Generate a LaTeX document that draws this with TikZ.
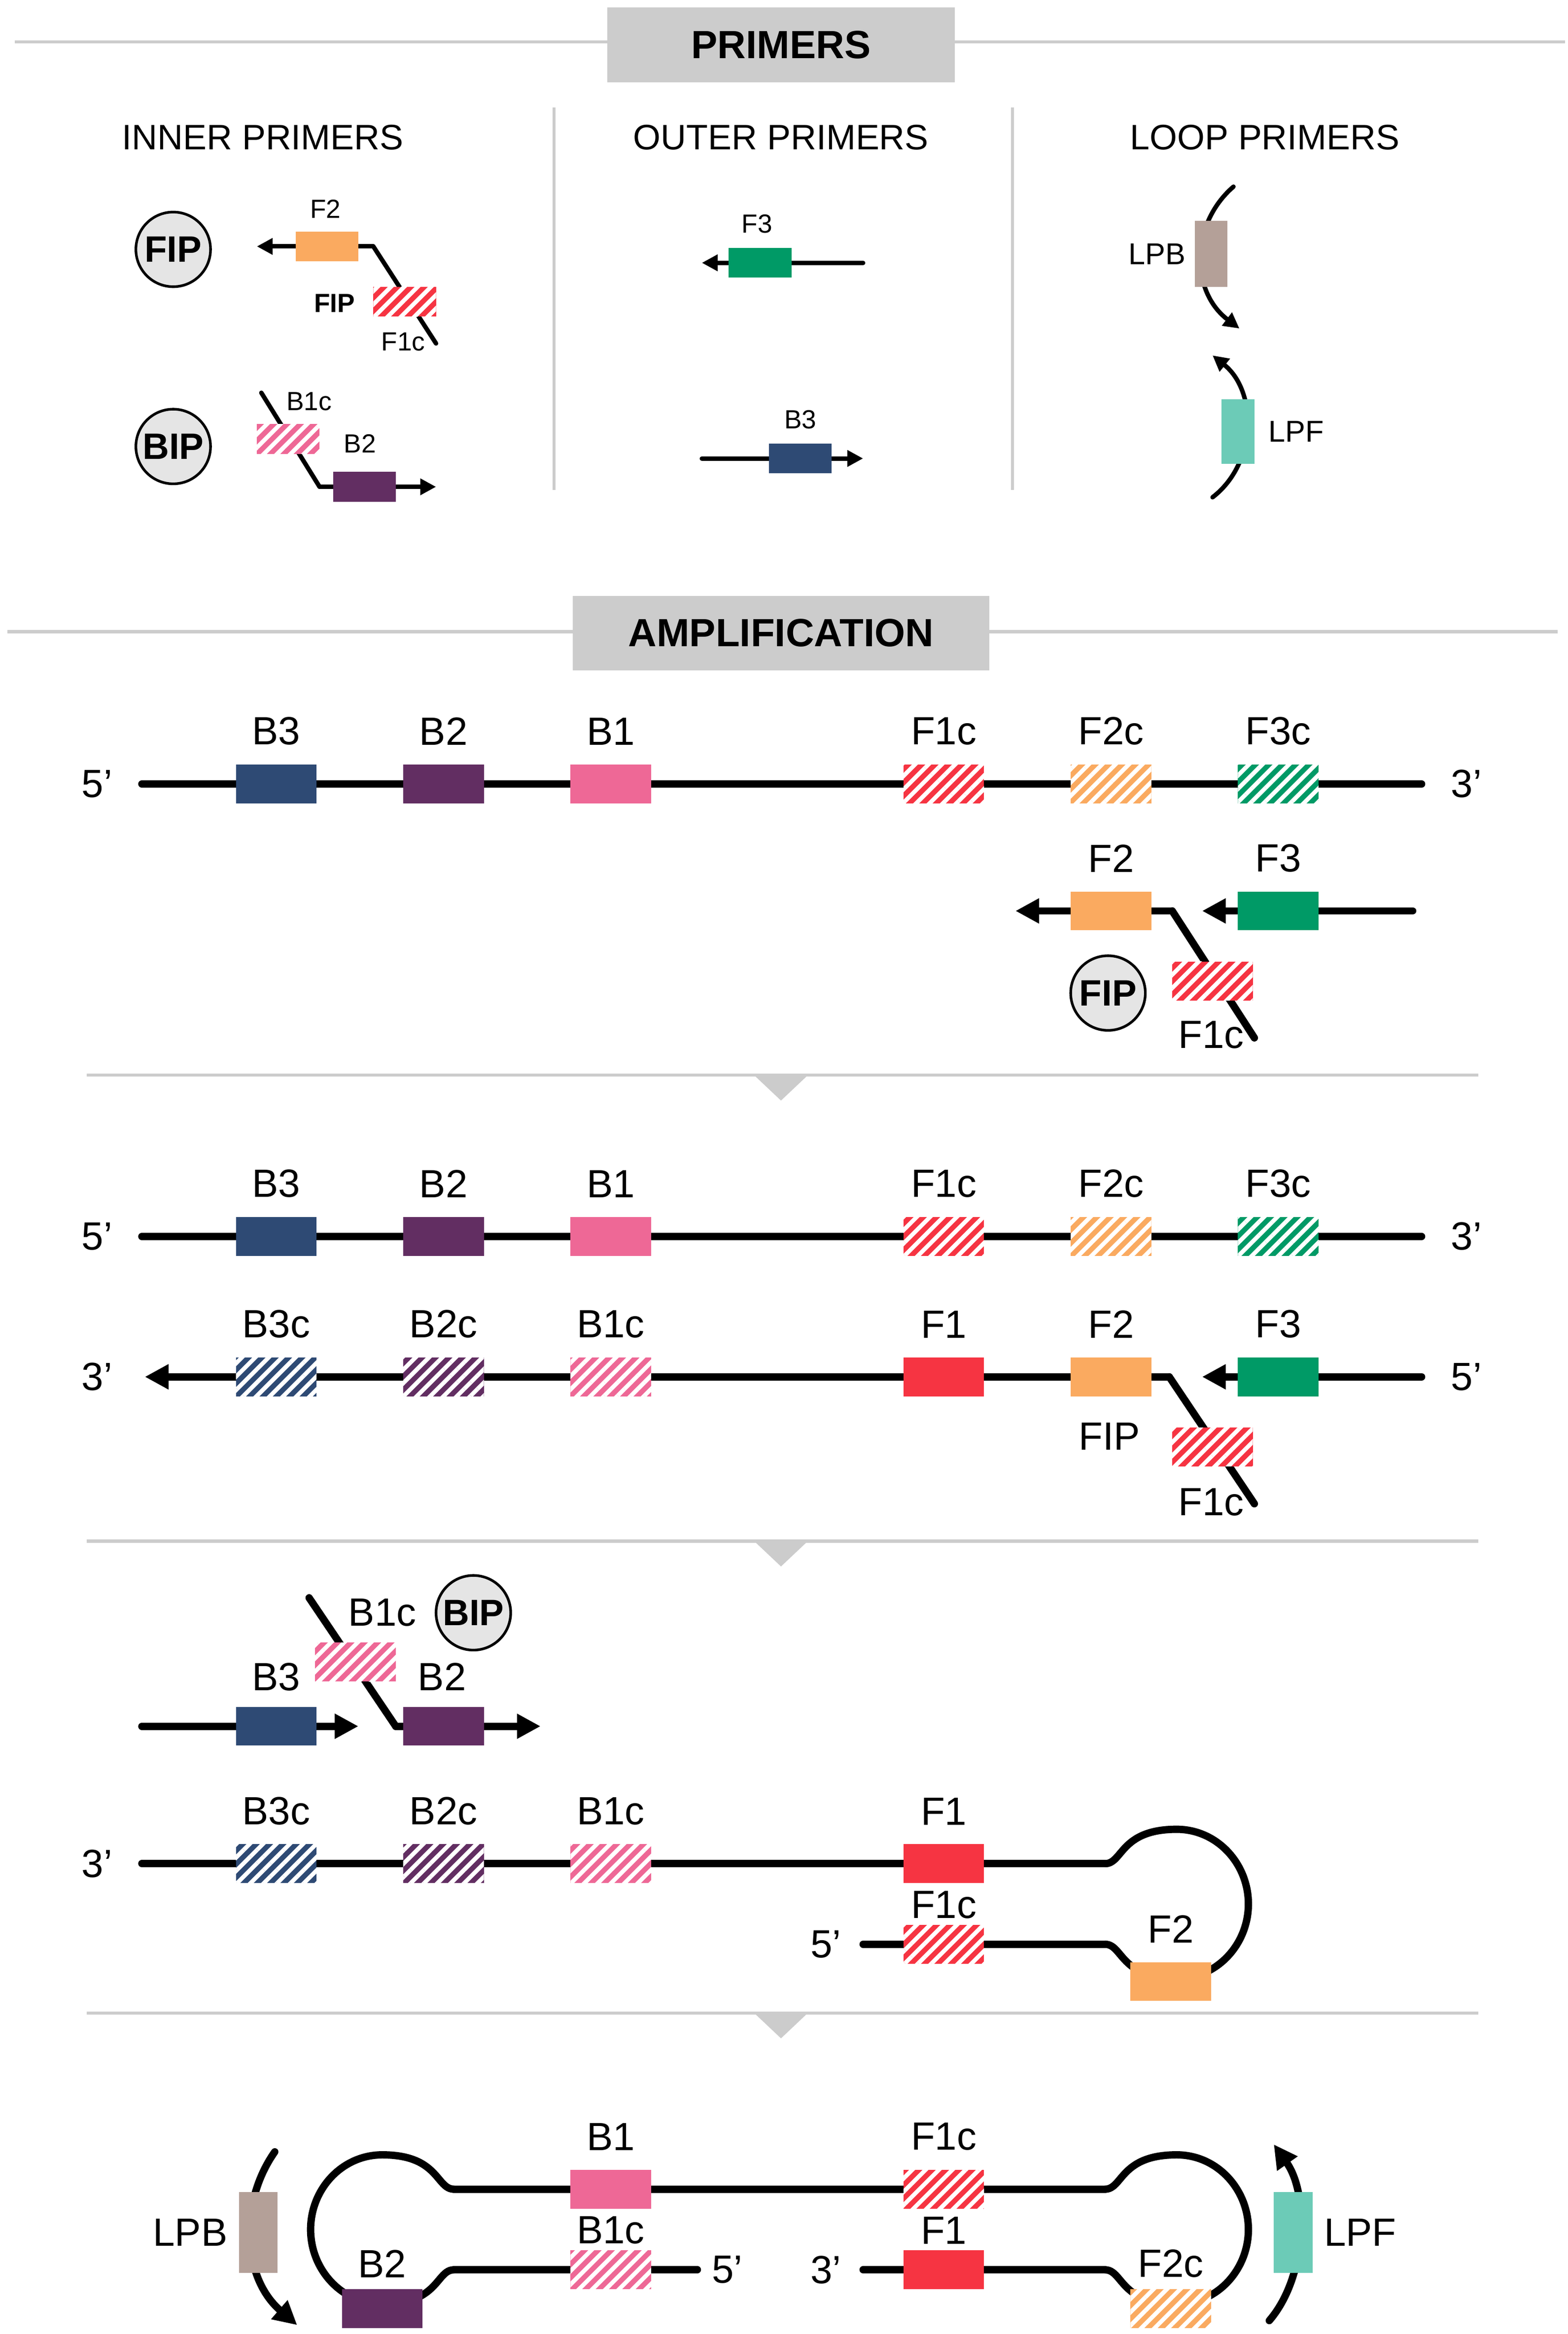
\documentclass[tikz,border=0pt]{standalone}
\usepackage{fontspec}
\setmainfont{Liberation Sans}
\usetikzlibrary{arrows.meta,patterns.meta,positioning}
\definecolor{cBthree}{RGB}{46,74,116}
\definecolor{cBtwo}{RGB}{98,46,98}
\definecolor{cBone}{RGB}{238,104,150}
\definecolor{cFone}{RGB}{246,52,66}
\definecolor{cFtwo}{RGB}{250,170,96}
\definecolor{cFthree}{RGB}{0,154,102}
\definecolor{cLPB}{RGB}{180,160,152}
\definecolor{cLPF}{RGB}{108,203,183}
\definecolor{hdgray}{RGB}{204,204,204}
\begin{document}
\begin{tikzpicture}[x=0.02cm, y=-0.02cm,
    strand/.style={line width=2.8pt, line cap=round},
    thin strand/.style={line width=1.7pt, line cap=round},
    tip/.style={-{Triangle[length=9pt,width=9pt]}},
    small tip/.style={-{Triangle[length=6pt,width=6pt]}},
    blk/.style={inner sep=0pt, minimum width=1.08cm, minimum height=0.52cm},
    sblk/.style={inner sep=0pt, minimum width=0.84cm, minimum height=0.4cm},
    vblk/.style={inner sep=0pt, minimum width=0.52cm, minimum height=1.08cm},
    hatch/.style={fill=#1, postaction={pattern color=white, pattern={Lines[angle=45,distance=3.6pt,line width=1.6pt]}}},
    lbl/.style={font=\fontsize{15}{17}\selectfont, inner sep=1pt},
    slbl/.style={font=\fontsize{10}{12}\selectfont, inner sep=1pt},
    ttl/.style={font=\fontsize{13.5}{16}\selectfont},
    hdr/.style={fill=hdgray, minimum width=4.66cm, minimum height=1cm, font=\fontsize{15}{18}\selectfont\bfseries},
    prim/.style={circle, draw, line width=1pt, fill=black!10, minimum size=1cm, inner sep=0pt, font=\fontsize{14}{16}\selectfont\bfseries},
    sep/.style={draw=hdgray, line width=1.2pt}
]
\useasboundingbox (0,0) rectangle (1050,1563);

% ---- PRIMERS header
\draw[sep] (10,28) -- (1048,28);
\node[hdr] (hprim) at (523,30) {PRIMERS};
\draw[sep] (371,72) -- (371,328);
\draw[sep] (678,72) -- (678,328);
\node[ttl] (tinner) at (176,92) {INNER PRIMERS};
\node[ttl] (touter) at (523,92) {OUTER PRIMERS};
\node[ttl] (tloop) at (847,92) {LOOP PRIMERS};

% inner primers
\node[prim] (fip) at (116,167) {FIP};
\coordinate (fipa) at (172,165);
\coordinate (fipk) at (250,165);
\coordinate (fipe) at (292,230);
\draw[thin strand, small tip] (fipk) -- (fipa);
\draw[thin strand] (fipk) -- (fipe);
\node[sblk, fill=cFtwo] (pf2) at (219,165) {};
\node[sblk, hatch=cFone] (pf1c) at (271,202) {};
\node[slbl] at (218,140) {F2};
\node[slbl, font=\fontsize{10}{12}\selectfont\bfseries] at (224,203) {FIP};
\node[slbl] at (270,229) {F1c};

\node[prim] (bip) at (116,299) {BIP};
\coordinate (bips) at (175,263);
\coordinate (bipk) at (214,326);
\coordinate (bipa) at (292,326);
\draw[thin strand] (bips) -- (bipk);
\draw[thin strand, small tip] (bipk) -- (bipa);
\node[sblk, hatch=cBone] (pb1c) at (193,294) {};
\node[sblk, fill=cBtwo] (pb2) at (244,326) {};
\node[slbl] at (207,269) {B1c};
\node[slbl] at (241,297) {B2};

% outer primers
\coordinate (of3s) at (578,176);
\coordinate (of3a) at (470,176);
\draw[thin strand, small tip] (of3s) -- (of3a);
\node[sblk, fill=cFthree] (pf3) at (509,176) {};
\node[slbl] at (507,150) {F3};
\coordinate (ob3s) at (470,307);
\coordinate (ob3a) at (578,307);
\draw[thin strand, small tip] (ob3s) -- (ob3a);
\node[sblk, fill=cBthree] (pb3) at (536,307) {};
\node[slbl] at (536,281) {B3};

% loop primers
\coordinate (lpbs) at (826,125);
\coordinate (lpba) at (830,220);
\draw[thin strand, small tip] (lpbs) .. controls (797,150) and (797,195) .. (lpba);
\node[inner sep=0pt, minimum width=0.44cm, minimum height=0.88cm, fill=cLPB] (plpb) at (811,170) {};
\node[slbl, font=\fontsize{11.5}{13}\selectfont, left=2pt of plpb] {LPB};
\coordinate (lpfs) at (812,333);
\coordinate (lpfa) at (812,238);
\draw[thin strand, small tip] (lpfs) .. controls (842,310) and (842,262) .. (lpfa);
\node[inner sep=0pt, minimum width=0.44cm, minimum height=0.86cm, fill=cLPF] (plpf) at (829,289) {};
\node[slbl, font=\fontsize{11.5}{13}\selectfont, right=4pt of plpf] {LPF};

% ---- AMPLIFICATION header
\draw[sep] (5,423) -- (1043,423);
\node[hdr, minimum width=5.58cm] (hamp) at (523,424) {AMPLIFICATION};

% step 1
\coordinate (s1l) at (95,525);
\coordinate (s1r) at (952,525);
\draw[strand] (s1l) -- (s1r);
\node[lbl] at (65,525) {5'};
\node[lbl] at (982,525) {3'};
\foreach \x/\c/\t/\h in {185/cBthree/B3/0,297/cBtwo/B2/0,409/cBone/B1/0,632/cFone/F1c/1,744/cFtwo/F2c/1,856/cFthree/F3c/1}{
  \ifnum\h=1 \node[blk, hatch=\c] (a\t) at (\x,525) {}; \else \node[blk, fill=\c] (a\t) at (\x,525) {}; \fi
  \node[lbl, above=6pt of a\t] {\t};
}
\coordinate (f3s) at (946,610);
\coordinate (f3a) at (805,610);
\draw[strand, tip] (f3s) -- (f3a);
\coordinate (f2k) at (785,610);
\coordinate (f2a) at (680,610);
\coordinate (f2e) at (840,695);
\draw[strand, tip] (f2k) -- (f2a);
\draw[strand] (f2k) -- (f2e);
\node[blk, fill=cFthree] (af3) at (856,610) {};
\node[blk, fill=cFtwo] (af2) at (744,610) {};
\node[blk, hatch=cFone] (af1c) at (812,657) {};
\node[lbl, above=6pt of af3] {F3};
\node[lbl, above=6pt of af2] {F2};
\node[lbl] at (811,693) {F1c};
\node[prim, fill=black!10] (fipa2) at (742,665) {FIP};

\draw[sep] (58,720) -- (990,720);
\fill[hdgray] (505,720) -- (541,720) -- (523,737) -- cycle;

% step 2
\coordinate (s2l) at (95,828);
\coordinate (s2r) at (952,828);
\draw[strand] (s2l) -- (s2r);
\node[lbl] at (65,828) {5'};
\node[lbl] at (982,828) {3'};
\foreach \x/\c/\t/\h in {185/cBthree/B3/0,297/cBtwo/B2/0,409/cBone/B1/0,632/cFone/F1c/1,744/cFtwo/F2c/1,856/cFthree/F3c/1}{
  \ifnum\h=1 \node[blk, hatch=\c] (b\t) at (\x,828) {}; \else \node[blk, fill=\c] (b\t) at (\x,828) {}; \fi
  \node[lbl, above=6pt of b\t] {\t};
}
\coordinate (s2k) at (783,922);
\coordinate (s2a) at (97,922);
\coordinate (s2e) at (840,1007);
\coordinate (s2f) at (952,922);
\coordinate (s2fa) at (805,922);
\draw[strand, tip] (s2k) -- (s2a);
\draw[strand] (s2k) -- (s2e);
\draw[strand, tip] (s2f) -- (s2fa);
\node[lbl] at (65,922) {3'};
\node[lbl] at (982,922) {5'};
\foreach \x/\c/\t/\h in {185/cBthree/B3c/1,297/cBtwo/B2c/1,409/cBone/B1c/1,632/cFone/F1/0,744/cFtwo/F2/0,856/cFthree/F3/0}{
  \ifnum\h=1 \node[blk, hatch=\c] (c\t) at (\x,922) {}; \else \node[blk, fill=\c] (c\t) at (\x,922) {}; \fi
  \node[lbl, above=6pt of c\t] {\t};
}
\node[blk, hatch=cFone] (cf1c) at (812,969) {};
\node[lbl] at (743,962) {FIP};
\node[lbl] at (811,1006) {F1c};

\draw[sep] (58,1032) -- (990,1032);
\fill[hdgray] (505,1032) -- (541,1032) -- (523,1049) -- cycle;

% step 3
\coordinate (b3s) at (95,1156);
\coordinate (b3a) at (240,1156);
\draw[strand, tip] (b3s) -- (b3a);
\coordinate (bs) at (207,1070);
\coordinate (bk) at (265,1156);
\coordinate (ba) at (362,1156);
\draw[strand] (bs) -- (bk);
\draw[strand, tip] (bk) -- (ba);
\node[blk, fill=cBthree] (db3) at (185,1156) {};
\node[blk, hatch=cBone] (db1c) at (238,1113) {};
\node[blk, fill=cBtwo] (db2) at (297,1156) {};
\node[lbl] at (185,1123) {B3};
\node[lbl] at (256,1080) {B1c};
\node[lbl] at (296,1123) {B2};
\node[prim] (bip2) at (317,1080) {BIP};

\coordinate (s3l) at (95,1248);
\coordinate (s3r) at (740,1248);
\coordinate (s3b) at (578,1302);
\coordinate (s3c) at (740,1302);
\draw[strand] (s3l) -- (s3r);
\draw[strand] (s3b) -- (s3c);
\begin{scope}[shift={(788,1275)}]
  \draw[strand] (-48,-27) .. controls (-36,-27) and (-38,-50) .. (0,-50) .. controls (27,-50) and (48,-27) .. (48,0)
    .. controls (48,27) and (27,50) .. (0,50) .. controls (-38,50) and (-36,27) .. (-48,27);
\end{scope}
\node[lbl] at (65,1248) {3'};
\foreach \x/\c/\t/\h in {185/cBthree/B3c/1,297/cBtwo/B2c/1,409/cBone/B1c/1,632/cFone/F1/0}{
  \ifnum\h=1 \node[blk, hatch=\c] (e\t) at (\x,1248) {}; \else \node[blk, fill=\c] (e\t) at (\x,1248) {}; \fi
  \node[lbl, above=6pt of e\t] {\t};
}
\node[blk, hatch=cFone] (ef1c) at (632,1302) {};
\node[lbl, above=1pt of ef1c] {F1c};
\node[lbl] at (553,1302) {5'};
\node[blk, fill=cFtwo] (ef2) at (784,1327) {};
\node[lbl, above=6pt of ef2] {F2};

\draw[sep] (58,1348) -- (990,1348);
\fill[hdgray] (505,1348) -- (541,1348) -- (523,1365) -- cycle;

% step 4
\coordinate (s4l) at (304,1466);
\coordinate (s4r) at (740,1466);
\coordinate (s4bl) at (304,1520);
\coordinate (s4b5) at (467,1520);
\coordinate (s4b3) at (578,1520);
\coordinate (s4br) at (740,1520);
\draw[strand] (s4l) -- (s4r);
\draw[strand] (s4bl) -- (s4b5);
\draw[strand] (s4b3) -- (s4br);
\foreach \cx/\s in {788/1,256/-1}{
\begin{scope}[shift={(\cx,1493)}, xscale=\s]
  \draw[strand] (-48,-27) .. controls (-36,-27) and (-38,-50) .. (0,-50) .. controls (27,-50) and (48,-27) .. (48,0)
    .. controls (48,27) and (27,50) .. (0,50) .. controls (-38,50) and (-36,27) .. (-48,27);
\end{scope}
}
\node[blk, fill=cBone] (gb1) at (409,1466) {};
\node[blk, hatch=cFone] (gf1c) at (632,1466) {};
\node[blk, hatch=cBone] (gb1c) at (409,1520) {};
\node[blk, fill=cFone] (gf1) at (632,1520) {};
\node[blk, fill=cBtwo] (gb2) at (256,1546) {};
\node[blk, hatch=cFtwo] (gf2c) at (784,1546) {};
\node[lbl, above=6pt of gb1] {B1};
\node[lbl, above=6pt of gf1c] {F1c};
\node[lbl, above=1pt of gb1c] {B1c};
\node[lbl, above=1pt of gf1] {F1};
\node[lbl, above=3pt of gb2] {B2};
\node[lbl, above=3pt of gf2c] {F2c};
\node[lbl] at (487,1520) {5'};
\node[lbl] at (553,1520) {3'};

\coordinate (lbs) at (184,1441);
\coordinate (lba) at (199,1557);
\draw[strand, tip] (lbs) .. controls (160,1475) and (162,1525) .. (lba);
\node[vblk, fill=cLPB] (glpb) at (173,1495) {};
\node[lbl, left=3pt of glpb] {LPB};
\coordinate (lfs) at (850,1554);
\coordinate (lfa) at (853,1436);
\draw[strand, tip] (lfs) .. controls (875,1525) and (877,1470) .. (lfa);
\node[vblk, fill=cLPF] (glpf) at (866,1495) {};
\node[lbl, right=3pt of glpf] {LPF};
\end{tikzpicture}
\end{document}
